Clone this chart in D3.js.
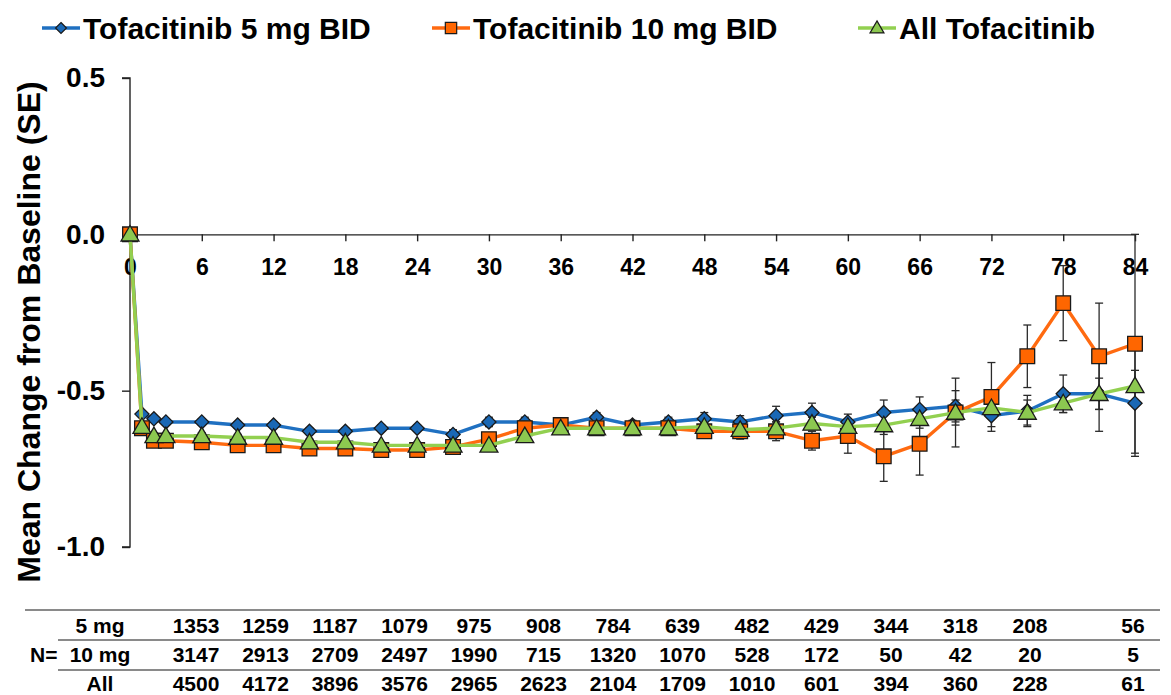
<!DOCTYPE html>
<html>
<head>
<meta charset="utf-8">
<script src="https://cdn.jsdelivr.net/npm/d3@7"></script>
<style>
  html, body { margin: 0; padding: 0; background: #fff; }
  svg { display: block; font-family: "Liberation Sans", Arial, sans-serif; font-weight: bold; }
</style>
</head>
<body>
<svg id="chart" width="1171" height="695"></svg>
<script>
// Visit months (x positions of every plotted point)
const months = [0,1,2,3,6,9,12,15,18,21,24,27,30,33,36,39,42,45,48,51,54,57,60,63,66,69,72,75,78,81,84];

// Mean change from baseline per series
const mean5mg  = [0,-0.575,-0.59,-0.60,-0.60,-0.61,-0.61,-0.63,-0.63,-0.62,-0.62,-0.64,-0.60,-0.60,-0.61,-0.585,-0.61,-0.60,-0.59,-0.60,-0.58,-0.57,-0.60,-0.57,-0.56,-0.55,-0.58,-0.565,-0.51,-0.51,-0.54];
const mean10mg = [0,-0.62,-0.66,-0.66,-0.665,-0.675,-0.675,-0.685,-0.685,-0.69,-0.69,-0.68,-0.655,-0.62,-0.61,-0.62,-0.62,-0.62,-0.63,-0.63,-0.63,-0.66,-0.645,-0.71,-0.67,-0.57,-0.52,-0.39,-0.22,-0.39,-0.35];
const meanAll  = [0,-0.615,-0.645,-0.645,-0.645,-0.65,-0.65,-0.665,-0.665,-0.675,-0.675,-0.675,-0.675,-0.645,-0.62,-0.62,-0.62,-0.62,-0.615,-0.625,-0.62,-0.605,-0.615,-0.61,-0.59,-0.57,-0.555,-0.57,-0.54,-0.51,-0.485];

// Standard errors per series
const se5mg  = [0,0.01,0.01,0.01,0.01,0.01,0.01,0.01,0.01,0.01,0.01,0.015,0.015,0.015,0.015,0.015,0.015,0.015,0.02,0.02,0.03,0.03,0.025,0.04,0.04,0.05,0.035,0.05,0.06,0.12,0.17];
const se10mg = [0,0.01,0.01,0.01,0.01,0.01,0.01,0.01,0.01,0.01,0.01,0.015,0.015,0.02,0.02,0.02,0.02,0.02,0.02,0.025,0.03,0.03,0.055,0.08,0.10,0.11,0.11,0.10,0.12,0.17,0.35];
const seAll  = [0,0.01,0.01,0.01,0.01,0.01,0.01,0.01,0.01,0.01,0.01,0.01,0.01,0.01,0.01,0.01,0.01,0.01,0.015,0.015,0.02,0.02,0.02,0.03,0.03,0.04,0.03,0.04,0.03,0.05,0.05];

const seriesNames = ["Tofacitinib 5 mg BID", "Tofacitinib 10 mg BID", "All Tofacitinib"];

// Axis ticks
const xTicks = [0,6,12,18,24,30,36,42,48,54,60,66,72,78,84];
const yTicks = [0.5, 0.0, -0.5, -1.0];

// Number of patients table
const tableVisits = [6,12,18,24,30,36,42,48,54,60,66,72,78,84];
const tableRowLabels = ["5 mg", "10 mg", "All"];
const n5mg  = [1353,1259,1187,1079,975,908,784,639,482,429,344,318,208,56];
const n10mg = [3147,2913,2709,2497,1990,715,1320,1070,528,172,50,42,20,5];
const nAll  = [4500,4172,3896,3576,2965,2623,2104,1709,1010,601,394,360,228,61];

const svg = d3.select("#chart");

const x = d3.scaleLinear().domain([0, 84]).range([130, 1135]);
const y = d3.scaleLinear().domain([-1, 0.5]).range([547, 78]);

// Square turned 45 degrees (equal width and height)
const symbolRhomb = {
  draw(ctx, size) {
    const r = Math.sqrt(size / 2);
    ctx.moveTo(0, -r); ctx.lineTo(r, 0); ctx.lineTo(0, r); ctx.lineTo(-r, 0); ctx.closePath();
  }
};

// Y axis
const yAxis = d3.axisLeft(y).tickValues(yTicks).tickSize(8);
const gy = svg.append("g").attr("transform", `translate(${x(0)},0)`).call(yAxis);
gy.select(".domain").attr("stroke", "#222").attr("stroke-width", 1.4).attr("d", `M-8,${y(0.5)}H0V${y(-1)}H-8`);
gy.selectAll(".tick line").attr("stroke", "#222").attr("stroke-width", 1.4);
gy.selectAll(".tick text").attr("x", -25).attr("font-size", 28).attr("font-weight", "bold")
  .attr("fill", "#000").attr("font-family", "Liberation Sans, Arial, sans-serif")
  .text(d => d.toFixed(1));

// X axis along zero
const xAxis = d3.axisBottom(x).tickValues(xTicks).tickSize(7).tickSizeOuter(0);
const gx = svg.append("g").attr("transform", `translate(0,${y(0)})`).call(xAxis);
gx.select(".domain").attr("stroke", "#222").attr("stroke-width", 1.4);
gx.selectAll(".tick line").attr("stroke", "#222").attr("stroke-width", 1.4);
gx.selectAll(".tick text").attr("y", 24).attr("font-size", 23).attr("font-weight", "bold")
  .attr("fill", "#000").attr("font-family", "Liberation Sans, Arial, sans-serif");

// Y axis title
svg.append("text")
  .attr("transform", `translate(40,${332}) rotate(-90)`)
  .attr("text-anchor", "middle")
  .attr("font-size", 32)
  .text("Mean Change from Baseline (SE)");

// Series definitions
const series = [
  { name: seriesNames[0], mean: mean5mg,  se: se5mg,  color: "#1F70C1", fill: "#1A68B5", shape: symbolRhomb,     size: 100, dy: 0 },
  { name: seriesNames[1], mean: mean10mg, se: se10mg, color: "#FF6A10", fill: "#FF6600", shape: d3.symbolSquare,  size: 215, dy: 0 },
  { name: seriesNames[2], mean: meanAll,  se: seAll,  color: "#92D050", fill: "#8CC850", shape: d3.symbolTriangle, size: 140, dy: 1.5 }
];

const line = d3.line().x(d => x(d.m)).y(d => y(d.v));

// Error bars first
series.forEach(s => {
  const pts = months.map((m, i) => ({ m, v: s.mean[i], e: s.se[i] })).filter(p => p.e > 0);
  const g = svg.append("g").attr("stroke", "#2a2a2a").attr("stroke-width", 1.3);
  g.selectAll("line.v").data(pts).join("line")
    .attr("x1", d => x(d.m)).attr("x2", d => x(d.m))
    .attr("y1", d => y(d.v + d.e)).attr("y2", d => y(d.v - d.e));
  g.selectAll("line.t").data(pts).join("line")
    .attr("x1", d => x(d.m) - 4).attr("x2", d => x(d.m) + 4)
    .attr("y1", d => y(d.v + d.e)).attr("y2", d => y(d.v + d.e));
  g.selectAll("line.b").data(pts).join("line")
    .attr("x1", d => x(d.m) - 4).attr("x2", d => x(d.m) + 4)
    .attr("y1", d => y(d.v - d.e)).attr("y2", d => y(d.v - d.e));
});

// Lines and markers
series.forEach(s => {
  const pts = months.map((m, i) => ({ m, v: s.mean[i] }));
  svg.append("path").datum(pts)
    .attr("fill", "none").attr("stroke", s.color).attr("stroke-width", 3.4)
    .attr("stroke-linejoin", "round").attr("d", line);
  svg.append("g").selectAll("path").data(pts).join("path")
    .attr("transform", d => `translate(${x(d.m)},${y(d.v) + s.dy})`)
    .attr("d", d3.symbol().type(s.shape).size(s.size))
    .attr("fill", s.fill).attr("stroke", "#1a1a1a").attr("stroke-width", 1.3);
});

// Legend
const legendX = [42, 432, 858];
series.forEach((s, i) => {
  const g = svg.append("g").attr("transform", `translate(${legendX[i]},28)`);
  g.append("line").attr("x1", 0).attr("x2", 38).attr("stroke", s.color).attr("stroke-width", 3.4);
  g.append("path").attr("transform", `translate(19,${s.dy * 0.6})`)
    .attr("d", d3.symbol().type(s.shape).size(s.size * 0.6))
    .attr("fill", s.fill).attr("stroke", "#1a1a1a").attr("stroke-width", 1.2);
  g.append("text").attr("x", 41).attr("dy", "0.35em").attr("font-size", 30).text(s.name);
});

// N table
const colX = d3.scaleLinear().domain([6, 78, 84]).range([196, 1030, 1133]);
const rowY = [626, 655, 684];
const rows = [n5mg, n10mg, nAll];

svg.append("line").attr("x1", 25).attr("x2", 1160).attr("y1", 610).attr("y2", 610)
  .attr("stroke", "#8a8a8a").attr("stroke-width", 2);
[640, 670].forEach(ly => {
  svg.append("line").attr("x1", 58).attr("x2", 1160).attr("y1", ly).attr("y2", ly)
    .attr("stroke", "#8a8a8a").attr("stroke-width", 2);
});
svg.append("text").attr("x", 30).attr("y", rowY[1]).attr("dy", "0.35em").attr("font-size", 21).text("N=");
tableRowLabels.forEach((lab, r) => {
  svg.append("text").attr("x", 100).attr("y", rowY[r]).attr("dy", "0.35em")
    .attr("text-anchor", "middle").attr("font-size", 21).text(lab);
  svg.append("g").selectAll("text").data(rows[r]).join("text")
    .attr("x", (d, i) => colX(tableVisits[i])).attr("y", rowY[r]).attr("dy", "0.35em")
    .attr("text-anchor", "middle").attr("font-size", 21).text(d => d);
});
</script>
</body>
</html>
